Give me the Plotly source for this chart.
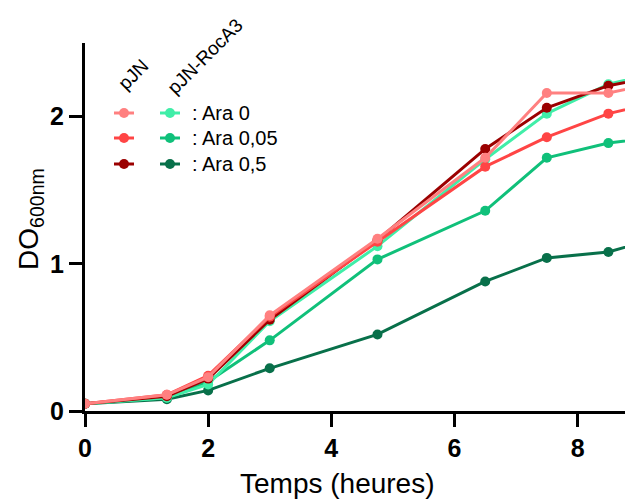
import plotly.graph_objects as go

# temps (heures)
temps = [0, 1.33, 2, 3, 4.75, 6.5, 7.5, 8.5, 9.5]

# DO600nm
pjn_ara0 = [0.05, 0.11, 0.23, 0.65, 1.17, 1.72, 2.16, 2.16, 2.25]
pjn_ara005 = [0.05, 0.11, 0.24, 0.64, 1.15, 1.66, 1.86, 2.02, 2.12]
pjn_ara05 = [0.05, 0.10, 0.22, 0.62, 1.16, 1.78, 2.06, 2.21, 2.29]
roca3_ara0 = [0.05, 0.09, 0.18, 0.61, 1.12, 1.71, 2.02, 2.22, 2.32]
roca3_ara005 = [0.05, 0.09, 0.20, 0.48, 1.03, 1.36, 1.72, 1.82, 1.87]
roca3_ara05 = [0.05, 0.08, 0.14, 0.29, 0.52, 0.88, 1.04, 1.08, 1.20]

legend_labels = [": Ara 0", ": Ara 0,05", ": Ara 0,5"]
pjn_colors = ["#FF8080", "#FF4545", "#9B0000"]
roca3_colors = ["#40EEA8", "#10C07A", "#08704A"]

FONT = "Liberation Sans, Arial, sans-serif"
# page body has an 8px margin, so the figure is drawn 8px in from the corner
OFF = 8
W, H = 633 - OFF, 502 - OFF
L, T, B = 85 - OFF, 43 - OFF, 91
PW, PH = W - L, H - T - B


def px(x):
    # screenshot pixel -> paper fraction
    return (x - OFF - L) / PW


def py(y):
    return (H - B - (y - OFF)) / PH


fig = go.Figure()

# draw order: RocA3 first, pJN on top
series = [
    (roca3_ara05, roca3_colors[2]),
    (roca3_ara005, roca3_colors[1]),
    (roca3_ara0, roca3_colors[0]),
    (pjn_ara05, pjn_colors[2]),
    (pjn_ara005, pjn_colors[1]),
    (pjn_ara0, pjn_colors[0]),
]
for ys, col in series:
    fig.add_trace(go.Scatter(x=temps, y=ys, mode="lines+markers",
                             line=dict(color=col, width=3),
                             marker=dict(color=col, size=10),
                             showlegend=False))

# hand-made legend (two symbol columns)
rows_y = [113, 138, 164]
for i in range(3):
    for xc, col in [(124, pjn_colors[i]), (170, roca3_colors[i])]:
        fig.add_shape(type="line", xref="paper", yref="paper",
                      x0=px(xc - 10), x1=px(xc + 10), y0=py(rows_y[i]), y1=py(rows_y[i]),
                      line=dict(color=col, width=3))
        fig.add_shape(type="circle", xref="paper", yref="paper",
                      x0=px(xc - 5), x1=px(xc + 5), y0=py(rows_y[i] + 5), y1=py(rows_y[i] - 5),
                      fillcolor=col, line=dict(color=col, width=0))
    fig.add_annotation(text=legend_labels[i], xref="paper", yref="paper",
                       x=px(190), y=py(rows_y[i]),
                       xanchor="left", yanchor="middle", showarrow=False,
                       font=dict(family=FONT, size=20, color="black"))

fig.add_annotation(text="pJN", xref="paper", yref="paper",
                   x=px(133), y=py(74), textangle=-45, showarrow=False,
                   xanchor="center", yanchor="middle",
                   font=dict(family=FONT, size=19, color="black"))
fig.add_annotation(text="pJN-RocA3", xref="paper", yref="paper",
                   x=px(205), y=py(57), textangle=-45, showarrow=False,
                   xanchor="center", yanchor="middle",
                   font=dict(family=FONT, size=19, color="black"))

# axis titles as annotations so they sit where the original has them
fig.add_annotation(text="Temps (heures)", xref="paper", yref="paper",
                   x=px(337), y=py(483), showarrow=False,
                   xanchor="center", yanchor="middle",
                   font=dict(family=FONT, size=28, color="black"))
fig.add_annotation(text="DO<sub>600nm</sub>", xref="paper", yref="paper",
                   x=px(30), y=py(219), textangle=-90, showarrow=False,
                   xanchor="center", yanchor="middle",
                   font=dict(family=FONT, size=28, color="black"))

fig.update_layout(
    width=W, height=H,
    margin=dict(l=L, r=0, t=T, b=B, autoexpand=False),
    plot_bgcolor="white", paper_bgcolor="white",
    font=dict(family=FONT, color="black"),
)
fig.update_xaxes(range=[0, 8.9], tickvals=[0, 2, 4, 6, 8], automargin=False,
                 showgrid=False, zeroline=False,
                 showline=True, linecolor="black", linewidth=3,
                 ticks="outside", ticklen=13, tickwidth=3, tickcolor="black",
                 tickfont=dict(family=FONT, size=25, weight="bold"))
fig.update_yaxes(range=[0, 2.5], tickvals=[0, 1, 2], automargin=False,
                 showgrid=False, zeroline=False,
                 showline=True, linecolor="black", linewidth=3,
                 ticks="outside", ticklen=13, tickwidth=3, tickcolor="black",
                 tickfont=dict(family=FONT, size=25, weight="bold"))

fig.write_html("out.html")
